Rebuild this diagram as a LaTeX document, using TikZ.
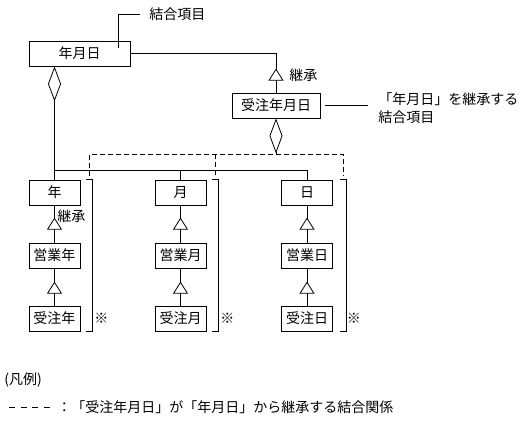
\documentclass[tikz,border=0pt]{standalone}
\usepackage{fontspec}
\setmainfont{Noto Sans CJK JP}
\usetikzlibrary{arrows.meta,positioning}
\newcommand{\legdash}{\makebox[11.5pt][l]{\rule[0.3em]{6pt}{0.8pt}}}

\begin{document}
\begin{tikzpicture}[x=1pt,y=-1pt,line width=0.8pt,
  font=\fontsize{14}{18}\selectfont,
  box/.style={draw,minimum height=25pt,minimum width=51pt,inner sep=0pt},
  gen/.style={-{Triangle[fill=white,length=12pt,width=15pt]}},
  agg/.style={{Diamond[fill=white,length=35pt,width=13pt]}-},
  lnk/.style={dash pattern=on 5pt off 3pt},
  lbl/.style={anchor=west,inner sep=0pt}]
\useasboundingbox (0,0) rectangle (520,423);

% Draw join items
\node[box,minimum width=101pt] (ymd) at (79.5,53.5) {年月日};
\node[box,minimum width=88pt] (oymd) at (276,105.5) {受注年月日};

% Draw columns
\node[box] (year) at (54.5,192.5) {年};
\node[box] (byear) at (54.5,255.5) {営業年};
\node[box] (oyear) at (54.5,318.5) {受注年};
\node[box] (month) at (180.5,192.5) {月};
\node[box] (bmonth) at (180.5,255.5) {営業月};
\node[box] (omonth) at (180.5,318.5) {受注月};
\node[box] (day) at (307,192.5) {日};
\node[box] (bday) at (307,255.5) {営業日};
\node[box] (oday) at (307,318.5) {受注日};

% Draw aggregation from ymd
\coordinate (bus) at (0,170);
\draw[agg] (year |- ymd.south) -- (year.north);
\draw (year |- bus) -- (day |- bus) -- (day.north);
\draw (month |- bus) -- (month.north);

% Draw inheritance
\draw (ymd.east) -| (oymd.north);
\draw[gen] (oymd.north) -- ++(0,-24);
\draw (year) -- (byear);
\draw[gen] (byear.north) -- ++(0,-25);
\draw (byear) -- (oyear);
\draw[gen] (oyear.north) -- ++(0,-24);
\draw (month) -- (bmonth);
\draw[gen] (bmonth.north) -- ++(0,-25);
\draw (bmonth) -- (omonth);
\draw[gen] (omonth.north) -- ++(0,-24);
\draw (day) -- (bday);
\draw[gen] (bday.north) -- ++(0,-25);
\draw (bday) -- (oday);
\draw[gen] (oday.north) -- ++(0,-24);

% Draw aggregation from oymd
\coordinate (dash) at (0,154);
\coordinate (dy) at ([xshift=9pt]year.north east);
\coordinate (dm) at ([xshift=9pt]month.north east);
\coordinate (dd) at ([xshift=10pt]day.north east);
\draw[agg] (oymd.south) -- (oymd.south |- dash);
\draw[lnk] ([yshift=4pt]dy) -- (dy |- dash) -- (dd |- dash) -- ([yshift=4pt]dd);
\draw[lnk] (dm |- dash) -- ([yshift=4pt]dm);

% Draw brackets
\draw ([xshift=6pt]year.north east) -- ([xshift=12pt]year.north east)
  -- ([xshift=12pt]oyear.south east) -- ([xshift=6pt]oyear.south east);
\draw ([xshift=6pt]month.north east) -- ([xshift=12pt]month.north east)
  -- ([xshift=12pt]omonth.south east) -- ([xshift=6pt]omonth.south east);
\draw ([xshift=7pt]day.north east) -- ([xshift=13pt]day.north east)
  -- ([xshift=13pt]oday.south east) -- ([xshift=7pt]oday.south east);
\node (ny) at ([xshift=21pt]oyear.east) {※};
\node (nm) at ([xshift=21pt]omonth.east) {※};
\node (nd) at ([xshift=21pt]oday.east) {※};

% Add labels
\node[lbl] (inh1) at (289,75) {継承};
\node[lbl] (inh2) at (57,216) {継承};
\node[lbl] (lbljoin) at (149,14) {結合項目};
\draw ([xshift=-12pt,yshift=5.5pt]ymd.east) |- ([xshift=-9pt]lbljoin.west);
\node[lbl,align=left] (lblinh) at (378,108) {「年月日」を継承する\\結合項目};
\coordinate (c2) at ([xshift=-10pt]lblinh.west);
\draw ([xshift=5pt]oymd.east) -- (c2 |- oymd.east);

% Add legend
\node[lbl] (legend) at (4,380) {(凡例)};
\node[lbl] (legline) at (4,407) {\hspace{5pt}\legdash\legdash\legdash\legdash\hspace{2pt}%
  ：「受注年月日」が「年月日」から継承する結合関係};
\end{tikzpicture}
\end{document}
